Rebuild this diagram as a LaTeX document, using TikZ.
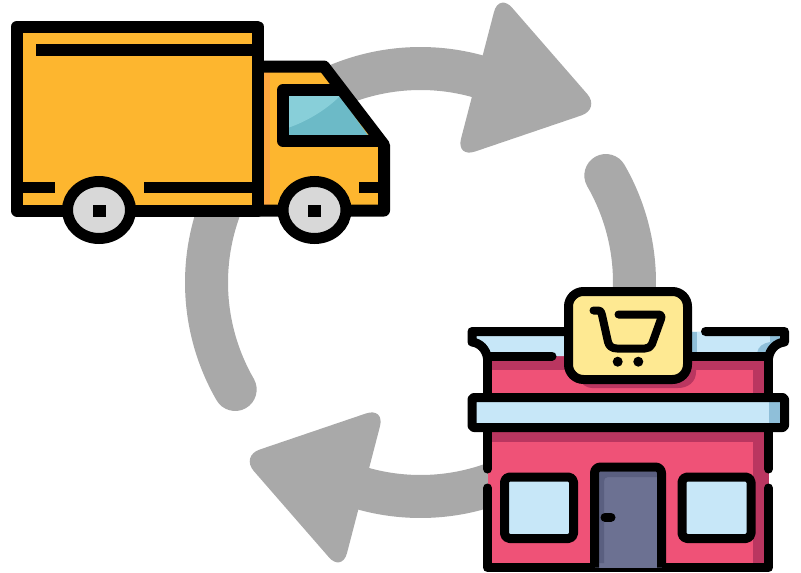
\documentclass[tikz,border=0pt]{standalone}
\definecolor{greyarrow}{HTML}{A9A9A9}
\definecolor{truckorange}{HTML}{FDB62F}
\definecolor{truckdark}{HTML}{FFA63F}
\definecolor{glassdark}{HTML}{6CBAC7}
\definecolor{glasslight}{HTML}{88CFD9}
\definecolor{hubgrey}{HTML}{D8D8D8}
\definecolor{shoppink}{HTML}{EF5277}
\definecolor{shopdark}{HTML}{BA3660}
\definecolor{shopblue}{HTML}{C7E7F8}
\definecolor{shopshade}{HTML}{8FBFD9}
\definecolor{signyellow}{HTML}{FEE992}
\definecolor{doorblue}{HTML}{6C7192}
\definecolor{doordark}{HTML}{5A5F80}
\tikzset{
  ring/.style={draw=greyarrow,line width=43pt},
  ringend/.style={ring,line cap=round},
  head/.style={fill=greyarrow,rounded corners=20pt},
  ink/.style={draw=black,line join=round},
  truckline/.style={ink,line width=12pt},
  stripe/.style={fill=black},
  shopline/.style={ink,line width=9pt,line cap=round},
  cartline/.style={ink,line width=8pt,line cap=round},
}
\begin{document}
\begin{tikzpicture}[x=1pt,y=-1pt]
\useasboundingbox (0,0) rectangle (801,573);
% ---- grey cycle arrows
\draw[ring] plot[domain=240:290,samples=30,smooth] ({420.5+214*cos(\x)},{282.5+214*sin(\x)});
\fill[head] (499,-7.3) -- (600.3,109) -- (456,158) -- cycle;
\draw[ringend] plot[domain=-30:10,samples=30,smooth] ({420.5+214*cos(\x)},{282.5+214*sin(\x)});
\draw[ring] plot[domain=60:110,samples=30,smooth] ({420.5+214*cos(\x)},{282.5+214*sin(\x)});
\fill[head] (342,572.3) -- (240.7,456) -- (385,407) -- cycle;
\draw[ringend] plot[domain=150:200,samples=30,smooth] ({420.5+214*cos(\x)},{282.5+214*sin(\x)});
% ---- truck
\fill[truckorange] (257.5,66.5) -- (324,66.5) -- (384,145) -- (384,210.5) -- (257.5,210.5) -- cycle;
\fill[truckorange] (17,26.5) rectangle (257.5,210.5);
\fill[truckdark] (263,72) rectangle (270,205);
\fill[glassdark] (289,96) -- (340,96) -- (368.5,136) -- (289,136) -- cycle;
\fill[glasslight] (289,96) -- (340,96) .. controls (325,111) and (305,122) .. (289,127.5) -- cycle;
\draw[truckline] (384,141) -- (283,141) -- (283,90) -- (343,90);
\draw[truckline] (257.5,66.5) -- (324,66.5) -- (384,145) -- (384,210.5) -- (257.5,210.5);
\draw[truckline] (17,26.5) rectangle (257.5,210.5);
\fill[stripe] (36,44) rectangle (252,55.5);
\fill[stripe] (23,182) rectangle (55,193);
\fill[stripe] (144,182) rectangle (252,193);
\fill[stripe] (359,182) rectangle (379,193);
\filldraw[draw=black,fill=hubgrey,line width=11pt] (99,210) ellipse [x radius=31.5,y radius=28.5];
\filldraw[draw=black,fill=hubgrey,line width=11pt] (314.5,210) ellipse [x radius=31.5,y radius=28.5];
\fill[stripe] (93,205) rectangle (106,217);
\fill[stripe] (308,205) rectangle (321,217);
% ---- shop
\fill[shoppink] (487.5,356) rectangle (768.5,567.5);
\fill[shopdark] (487.5,356) rectangle (768.5,370);
\fill[shopdark] (753,356) rectangle (768.5,567.5);
\fill[shopdark] (487.5,430) rectangle (768.5,442);
\fill[shopdark] (580,370) -- (696,370) -- (696,372) .. controls (696,382) and (688,388) .. (678,388) -- (592,388) .. controls (586,388) and (582,384) .. (580,380) -- cycle;
% awning
\fill[shopblue] (472,331.5) -- (784.5,331.5) -- (784.5,342) .. controls (776,343) and (770,349) .. (768.5,356) -- (487.5,356) .. controls (486,349) and (480,343) .. (472,342) -- cycle;
\fill[shopshade] (692,332) rectangle (697,353);
\fill[shopshade] (757,353) .. controls (758,346) and (764,343) .. (770,342) -- (770,336) -- (781,336) -- (781,340) .. controls (774,343) and (769,347) .. (767,353) -- cycle;
\draw[shopline] (552,356) -- (487.5,356);
\draw[shopline] (565,331.5) -- (472,331.5) -- (472,342) .. controls (480,343) and (486,349) .. (487.5,358);
\draw[shopline] (705.5,331.5) -- (784.5,331.5) -- (784.5,342) .. controls (776,343) and (770,349) .. (768.5,358);
\draw[shopline] (690,356) -- (768.5,356);
% walls
\draw[shopline] (487.5,356) -- (487.5,400);
\draw[shopline] (768.5,356) -- (768.5,400);
\draw[shopline] (487.5,425) -- (487.5,469);
\draw[shopline] (768.5,425) -- (768.5,469);
\draw[shopline] (487.5,488) -- (487.5,567.5) -- (768.5,567.5) -- (768.5,488);
% ledge
\fill[shopblue] (472,397.5) rectangle (784.5,427.5);
\fill[shopshade] (769,402) rectangle (780,423);
\draw[ink,line width=9pt,rounded corners=2pt] (472,397.5) rectangle (784.5,427.5);
% sign
\filldraw[ink,fill=signyellow,line width=9pt,rounded corners=15pt] (568.5,291.5) rectangle (687.5,379.5);
\draw[cartline] (593.5,310.5) -- (597,310.5) .. controls (601,310.5) and (601.5,312) .. (602,315) -- (608,342) .. controls (609,346) and (612,348.5) .. (617,348.5) -- (645,348.5) .. controls (648,348.5) and (651,347) .. (652,344) -- (661,319) .. controls (662,316) and (661,314.5) .. (658,314.5) -- (618.5,314.5);
\fill (617.7,361.7) circle [radius=5];
\fill (638.3,361.7) circle [radius=5];
% door
\fill[doorblue] (594.5,567.5) -- (594.5,467) -- (661.5,467) -- (661.5,567.5) -- cycle;
\fill[doordark] (599,563) -- (599,472) -- (657,472) -- (657,477) -- (608,477) .. controls (605,477) and (604,479) .. (604,482) -- (604,563) -- cycle;
\draw[ink,line width=9pt,rounded corners=6pt] (594.5,567.5) -- (594.5,467) -- (661.5,467) -- (661.5,567.5);
\draw[ink,line width=9pt,line cap=round] (605,517.3) -- (611,517.3);
% windows
\filldraw[ink,fill=shopblue,line width=9pt,rounded corners=5pt] (504.5,477) rectangle (573.5,538.5);
\filldraw[ink,fill=shopblue,line width=9pt,rounded corners=5pt] (682,477) rectangle (751,538.5);
\end{tikzpicture}
\end{document}
